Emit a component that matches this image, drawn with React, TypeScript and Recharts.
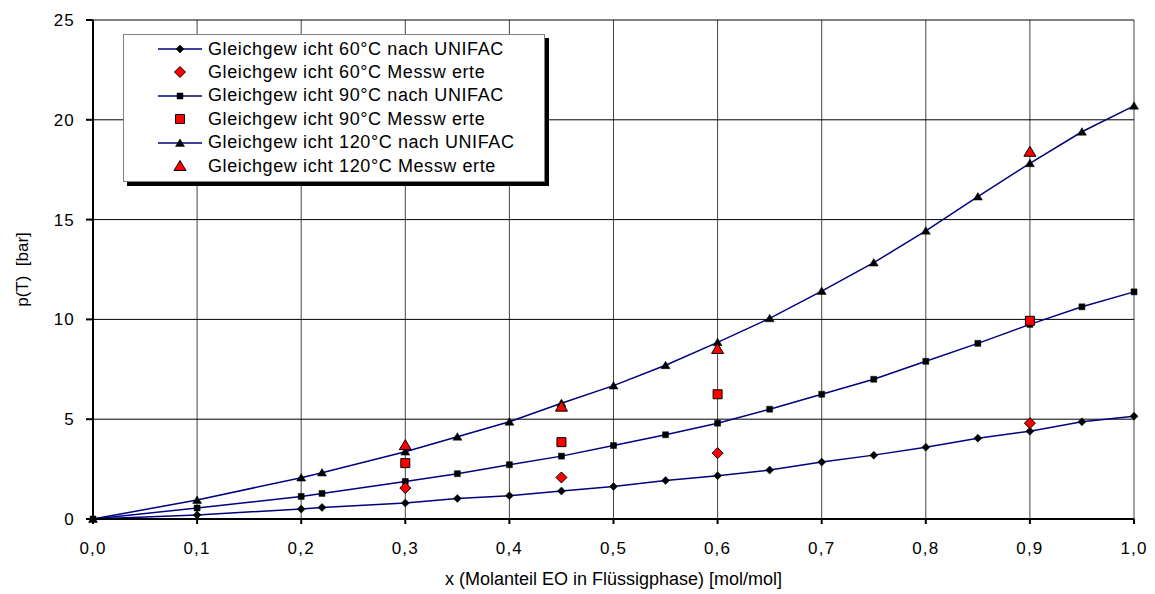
import React from 'react'
import {
  LineChart, Line, XAxis, YAxis, CartesianGrid,
} from 'recharts'

// x-Werte der UNIFAC-Rechnung und der Messpunkte
const xUnifac = [0, 0.1, 0.2, 0.22, 0.3, 0.35, 0.4, 0.45, 0.5, 0.55, 0.6, 0.65, 0.7, 0.75, 0.8, 0.85, 0.9, 0.95, 1.0]
const p60Unifac = [0, 0.2, 0.5, 0.58, 0.8, 1.03, 1.17, 1.4, 1.63, 1.93, 2.17, 2.45, 2.85, 3.2, 3.6, 4.05, 4.4, 4.87, 5.15]
const p90Unifac = [0, 0.55, 1.13, 1.28, 1.88, 2.27, 2.72, 3.15, 3.68, 4.22, 4.8, 5.5, 6.25, 7.0, 7.9, 8.8, 9.75, 10.63, 11.38]
const p120Unifac = [0, 0.95, 2.07, 2.32, 3.37, 4.12, 4.87, 5.8, 6.68, 7.7, 8.85, 10.05, 11.42, 12.84, 14.44, 16.15, 17.82, 19.4, 20.7]

const xMess = [0.3, 0.45, 0.6, 0.9]
const p60Mess = [1.55, 2.08, 3.3, 4.8]
const p90Mess = [2.8, 3.85, 6.25, 9.93]
const p120Mess = [3.7, 5.63, 8.52, 18.4]

const xTicks = [0, 0.1, 0.2, 0.3, 0.4, 0.5, 0.6, 0.7, 0.8, 0.9, 1.0]
const yTicks = [0, 5, 10, 15, 20, 25]

const LEGEND_LABELS = [
  'Gleichgew icht 60°C nach UNIFAC',
  'Gleichgew icht 60°C Messw erte',
  'Gleichgew icht 90°C nach UNIFAC',
  'Gleichgew icht 90°C Messw erte',
  'Gleichgew icht 120°C nach UNIFAC',
  'Gleichgew icht 120°C Messw erte',
]

const FONT = '"Liberation Sans", Arial, sans-serif'
const NAVY = '#000080'

const toRows = (xs: number[], ps: number[]) => xs.map((x, i) => ({ x, p: ps[i] }))

type Shape = 'diamond' | 'square' | 'triangle'

function shapePath(shape: Shape, cx: number, cy: number, big: boolean) {
  if (shape === 'diamond') {
    const r = big ? 5.5 : 4
    return `M${cx},${cy - r}L${cx + r},${cy}L${cx},${cy + r}L${cx - r},${cy}Z`
  }
  if (shape === 'square') {
    const s = big ? 4.5 : 3
    return `M${cx - s},${cy - s}h${2 * s}v${2 * s}h${-2 * s}Z`
  }
  const w = big ? 6 : 4.5
  const h = big ? 10 : 7.5
  return `M${cx},${cy - h * 0.55}L${cx + w},${cy + h * 0.45}L${cx - w},${cy + h * 0.45}Z`
}

const makeDot = (shape: Shape, big: boolean) => (props: any) => {
  const { cx, cy, index } = props
  if (cx == null || cy == null) return <g key={`d-${index}`} />
  return (
    <path
      key={`d-${shape}-${big}-${index}`}
      d={shapePath(shape, cx, cy, big)}
      fill={big ? '#FF0000' : '#000'}
      stroke="#000"
      strokeWidth={big ? 1 : 0.5}
    />
  )
}

function YLabel(props: any) {
  const vb = props.viewBox || { x: 0, y: 0, width: 0, height: 0 }
  const x = vb.x + 9
  const y = vb.y + vb.height / 2
  return (
    <text
      x={x} y={y} transform={`rotate(-90 ${x} ${y})`} textAnchor="middle" dominantBaseline="central"
      fill="#000" fontSize={17} fontFamily={FONT} style={{ whiteSpace: 'pre' }}
    >
      p(T)  [bar]
    </text>
  )
}

function ChartLegend() {
  const shapes: Shape[] = ['diamond', 'diamond', 'square', 'square', 'triangle', 'triangle']
  return (
    <div
      style={{
        position: 'absolute', left: 115, top: 26, width: 420, height: 146,
        background: '#fff', border: '1px solid #808080',
        boxShadow: '4px 4px 0 #000', fontFamily: FONT, fontSize: 18, letterSpacing: 0.6,
      }}
    >
      {LEGEND_LABELS.map((label, i) => {
        const big = i % 2 === 1
        return (
          <div key={label} style={{ position: 'absolute', left: 0, top: 3 + i * 23.4, height: 22, display: 'flex', alignItems: 'center' }}>
            <svg width={84} height={22}>
              {!big && <line x1={34} x2={78} y1={11} y2={11} stroke={NAVY} strokeWidth={1.5} />}
              <path d={shapePath(shapes[i], 56, 11, big)} fill={big ? '#FF0000' : '#000'} stroke="#000" strokeWidth={big ? 1 : 0.5} />
            </svg>
            <span style={{ color: '#000', whiteSpace: 'pre' }}>{label}</span>
          </div>
        )
      })}
    </div>
  )
}

export default function App() {
  const fmt = (v: number) => v.toFixed(1).replace('.', ',')
  const tickStyle = { fill: '#000', fontSize: 17, fontFamily: FONT, letterSpacing: 1.2 }
  return (
    <div style={{ position: 'relative', width: 1140, height: 586 }}>
      <LineChart width={1140} height={586} margin={{ top: 12, right: 14, bottom: 0, left: 5 }}>
        <CartesianGrid horizontal={false} stroke="#444" strokeWidth={1} />
        <CartesianGrid vertical={false} stroke="#000" strokeWidth={1} />
        <XAxis
          dataKey="x" type="number" domain={[0, 1]} ticks={xTicks} tickFormatter={fmt}
          allowDuplicatedCategory={false} height={75}
          stroke="#000" strokeWidth={2} tickSize={5} tickMargin={18}
          tick={tickStyle}
          label={{ value: 'x (Molanteil EO in Flüssigphase) [mol/mol]', position: 'insideBottom', offset: 9, fill: '#000', fontSize: 18, fontFamily: FONT }}
        />
        <YAxis
          type="number" domain={[0, 25]} ticks={yTicks} width={80}
          stroke="#000" strokeWidth={2} tickSize={7} tickMargin={11}
          tick={tickStyle}
          label={<YLabel />}
        />
        <Line data={toRows(xUnifac, p60Unifac)} dataKey="p" stroke={NAVY} strokeWidth={1.5} dot={makeDot('diamond', false)} isAnimationActive={false} />
        <Line data={toRows(xUnifac, p90Unifac)} dataKey="p" stroke={NAVY} strokeWidth={1.5} dot={makeDot('square', false)} isAnimationActive={false} />
        <Line data={toRows(xUnifac, p120Unifac)} dataKey="p" stroke={NAVY} strokeWidth={1.5} dot={makeDot('triangle', false)} isAnimationActive={false} />
        <Line data={toRows(xMess, p60Mess)} dataKey="p" stroke="none" dot={makeDot('diamond', true)} isAnimationActive={false} />
        <Line data={toRows(xMess, p90Mess)} dataKey="p" stroke="none" dot={makeDot('square', true)} isAnimationActive={false} />
        <Line data={toRows(xMess, p120Mess)} dataKey="p" stroke="none" dot={makeDot('triangle', true)} isAnimationActive={false} />
      </LineChart>
      <ChartLegend />
    </div>
  )
}
